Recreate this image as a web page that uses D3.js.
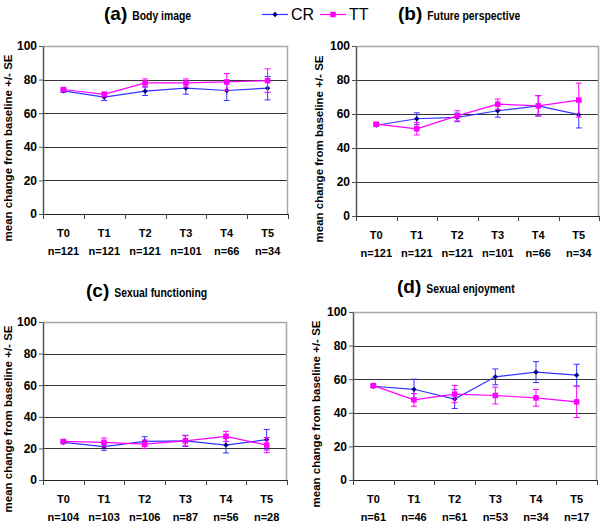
<!DOCTYPE html>
<html>
<head>
<meta charset="utf-8">
<title>Mean change from baseline</title>
<script src="https://d3js.org/d3.v7.min.js"></script>
<style>
  body { margin: 0; background: #fff; }
  svg { display: block; }
  .tick-lbl { font-family: "Liberation Sans", Arial, sans-serif; font-weight: bold; font-size: 11px; }
  .ylab { font-family: "Liberation Sans", Arial, sans-serif; font-weight: bold; font-size: 11.5px; }
  .ttl-big { font-family: "Liberation Sans", Arial, sans-serif; font-weight: bold; font-size: 19px; }
  .ttl-small { font-family: "Liberation Sans", Arial, sans-serif; font-weight: bold; font-size: 13px; }
  .legend { font-family: "Liberation Sans", Arial, sans-serif; font-size: 16px; }
</style>
</head>
<body>
<div id="chart"></div>
<script>
// time points on the x axis
const timepoints = ["T0", "T1", "T2", "T3", "T4", "T5"];
const yTicks = [0, 20, 40, 60, 80, 100];

// (a) Body image
const nBody = ["n=121", "n=121", "n=121", "n=101", "n=66", "n=34"];
const crBody = [73.3, 69.6, 73.1, 74.9, 73.5, 74.9];
const crBodySE = [0.8, 2.0, 2.6, 3.6, 6.0, 7.0];
const ttBody = [74.1, 71.2, 78.0, 78.0, 78.6, 79.4];
const ttBodySE = [0.8, 1.4, 2.4, 2.4, 5.0, 7.0];

// (b) Future perspective
const nFuture = ["n=121", "n=121", "n=121", "n=101", "n=66", "n=34"];
const crFuture = [53.4, 57.2, 58.0, 61.9, 64.8, 59.6];
const crFutureSE = [0.8, 3.5, 2.5, 3.8, 6.0, 7.8];
const ttFuture = [54.0, 51.3, 58.9, 65.8, 64.8, 68.2];
const ttFutureSE = [0.8, 3.6, 3.0, 3.0, 6.0, 10.0];

// (c) Sexual functioning
const nFunc = ["n=104", "n=103", "n=106", "n=87", "n=56", "n=28"];
const crFunc = [23.8, 21.1, 24.4, 24.8, 22.1, 25.5];
const crFuncSE = [0.8, 2.3, 3.0, 3.5, 5.0, 6.5];
const ttFunc = [24.4, 23.8, 22.7, 24.8, 27.6, 22.1];
const ttFuncSE = [0.8, 2.8, 2.6, 3.2, 3.2, 4.8];

// (d) Sexual enjoyment
const nEnjoy = ["n=61", "n=46", "n=61", "n=53", "n=34", "n=17"];
const crEnjoy = [55.8, 54.0, 48.2, 61.4, 64.2, 62.4];
const crEnjoySE = [0.8, 6.0, 5.6, 4.7, 6.2, 6.5];
const ttEnjoy = [56.2, 47.7, 51.1, 50.3, 48.9, 46.5];
const ttEnjoySE = [0.8, 3.8, 5.1, 5.0, 5.0, 9.3];

const CR_LINE = "#3333ff", CR_MARK = "#000080";
const TT_COLOR = "#ff00ff";

const panels = [
  { tag: "(a)", title: "Body image", n: nBody, cr: crBody, crSE: crBodySE, tt: ttBody, ttSE: ttBodySE,
    x0: 43, x1: 288, yTop: 46, yBot: 214, tagX: 104, titleY: 20, labX: 8 },
  { tag: "(b)", title: "Future perspective", n: nFuture, cr: crFuture, crSE: crFutureSE, tt: ttFuture, ttSE: ttFutureSE,
    x0: 356, x1: 599, yTop: 46, yBot: 216, tagX: 398, titleY: 20, labX: 319 },
  { tag: "(c)", title: "Sexual functioning", n: nFunc, cr: crFunc, crSE: crFuncSE, tt: ttFunc, ttSE: ttFuncSE,
    x0: 43, x1: 287, yTop: 322, yBot: 480, tagX: 86, titleY: 297, labX: 8 },
  { tag: "(d)", title: "Sexual enjoyment", n: nEnjoy, cr: crEnjoy, crSE: crEnjoySE, tt: ttEnjoy, ttSE: ttEnjoySE,
    x0: 353, x1: 597, yTop: 312, yBot: 480, tagX: 397, titleY: 293, labX: 316 }
];

const svg = d3.select("#chart").append("svg")
  .attr("width", 600)
  .attr("height", 523);

panels.forEach(p => {
  const g = svg.append("g");

  const x = d3.scaleBand().domain(timepoints).range([p.x0, p.x1]);
  const y = d3.scaleLinear().domain([0, 100]).range([p.yBot, p.yTop]);
  const cx = d => x(d) + x.bandwidth() / 2;

  // gridlines
  g.selectAll(".grid").data(yTicks.filter(t => t > 0 && t < 100)).enter()
    .append("line")
    .attr("x1", p.x0).attr("x2", p.x1)
    .attr("y1", d => Math.round(y(d)) + 0.5).attr("y2", d => Math.round(y(d)) + 0.5)
    .attr("stroke", "#333").attr("stroke-width", 1.2);

  // plot area border top / right
  g.append("path")
    .attr("d", `M${p.x0},${Math.round(y(100)) + 0.5}H${p.x1 - 0.5}V${p.yBot}`)
    .attr("fill", "none").attr("stroke", "#a8a8a8").attr("stroke-width", 1.5);

  // y axis
  const yAxis = g.append("g")
    .attr("transform", `translate(${p.x0},0)`)
    .call(d3.axisLeft(y).tickValues(yTicks).tickSize(4).tickSizeOuter(0));
  yAxis.select(".domain").attr("stroke", "#555").attr("stroke-width", 1.5);
  yAxis.selectAll(".tick line").attr("stroke", "#555");
  yAxis.selectAll(".tick text").attr("class", "tick-lbl").style("font-size", "12px").attr("fill", "#000").attr("x", -6);

  // x axis (ticks at category boundaries)
  g.append("line")
    .attr("x1", p.x0).attr("x2", p.x1)
    .attr("y1", p.yBot + 0.5).attr("y2", p.yBot + 0.5)
    .attr("stroke", "#222").attr("stroke-width", 1.2);
  const edges = timepoints.map(t => x(t)).concat([p.x1]);
  g.selectAll(".xt").data(edges).enter().append("line")
    .attr("x1", d => Math.round(d) + 0.5).attr("x2", d => Math.round(d) + 0.5)
    .attr("y1", p.yBot).attr("y2", p.yBot + 5)
    .attr("stroke", "#444");

  g.selectAll(".xl1").data(timepoints).enter().append("text")
    .attr("class", "tick-lbl")
    .attr("x", d => cx(d)).attr("y", p.yBot + 23)
    .attr("text-anchor", "middle").text(d => d);
  g.selectAll(".xl2").data(timepoints).enter().append("text")
    .attr("class", "tick-lbl")
    .attr("x", d => cx(d)).attr("y", p.yBot + 41)
    .attr("text-anchor", "middle").text((d, i) => p.n[i]);

  // y axis title
  g.append("text")
    .attr("class", "ylab")
    .attr("transform", `translate(${p.labX},${(p.yTop + p.yBot) / 2 + 18}) rotate(-90)`)
    .attr("text-anchor", "middle")
    .attr("dy", "0.35em")
    .text("mean change from baseline +/- SE");

  // panel title: large tag, condensed subtitle
  const tag = g.append("text").attr("class", "ttl-big")
    .attr("x", p.tagX).attr("y", p.titleY).text(p.tag);
  const tagW = tag.node().getComputedTextLength();
  g.append("text").attr("class", "ttl-small")
    .attr("transform", `translate(${p.tagX + tagW + 5},${p.titleY}) scale(0.8,1)`)
    .text(p.title);

  // series
  const series = [
    { vals: p.cr, se: p.crSE, line: CR_LINE, err: CR_LINE, diamond: true },
    { vals: p.tt, se: p.ttSE, line: TT_COLOR, err: TT_COLOR, diamond: false }
  ];
  series.forEach(s => {
    const pts = timepoints.map((tp, i) => ({ tp, v: s.vals[i], se: s.se[i] }));
    const eg = g.append("g");
    eg.selectAll("line.v").data(pts).enter().append("line")
      .attr("x1", d => cx(d.tp)).attr("x2", d => cx(d.tp))
      .attr("y1", d => y(d.v - d.se)).attr("y2", d => y(d.v + d.se))
      .attr("stroke", s.err).attr("stroke-width", 1);
    [-1, 1].forEach(sign => {
      eg.selectAll(null).data(pts).enter().append("line")
        .attr("x1", d => cx(d.tp) - 3).attr("x2", d => cx(d.tp) + 3)
        .attr("y1", d => y(d.v + sign * d.se)).attr("y2", d => y(d.v + sign * d.se))
        .attr("stroke", s.err).attr("stroke-width", 1);
    });
    g.append("path")
      .datum(pts)
      .attr("fill", "none").attr("stroke", s.line).attr("stroke-width", 1.2)
      .attr("d", d3.line().x(d => cx(d.tp)).y(d => y(d.v)));
    g.selectAll(null).data(pts).enter().append("path")
      .attr("d", d3.symbol().type(d3.symbolSquare).size(s.diamond ? 14 : 30))
      .attr("transform", d => `translate(${cx(d.tp)},${y(d.v)})` + (s.diamond ? " rotate(45)" : ""))
      .attr("fill", s.diamond ? CR_MARK : TT_COLOR);
  });
});

// legend
const leg = svg.append("g");
const legItems = [
  { name: "CR", color: CR_LINE, mark: CR_MARK, diamond: true, x: 262 },
  { name: "TT", color: TT_COLOR, mark: TT_COLOR, diamond: false, x: 320 }
];
legItems.forEach(it => {
  leg.append("line").attr("x1", it.x).attr("x2", it.x + 26).attr("y1", 14.5).attr("y2", 14.5)
    .attr("stroke", it.color).attr("stroke-width", 1.2);
  leg.append("path")
    .attr("d", d3.symbol().type(d3.symbolSquare).size(it.diamond ? 14 : 30))
    .attr("transform", `translate(${it.x + 13},14.5)` + (it.diamond ? " rotate(45)" : ""))
    .attr("fill", it.mark);
  leg.append("text").attr("class", "legend").attr("x", it.x + 29).attr("y", 20).text(it.name);
});
</script>
</body>
</html>
